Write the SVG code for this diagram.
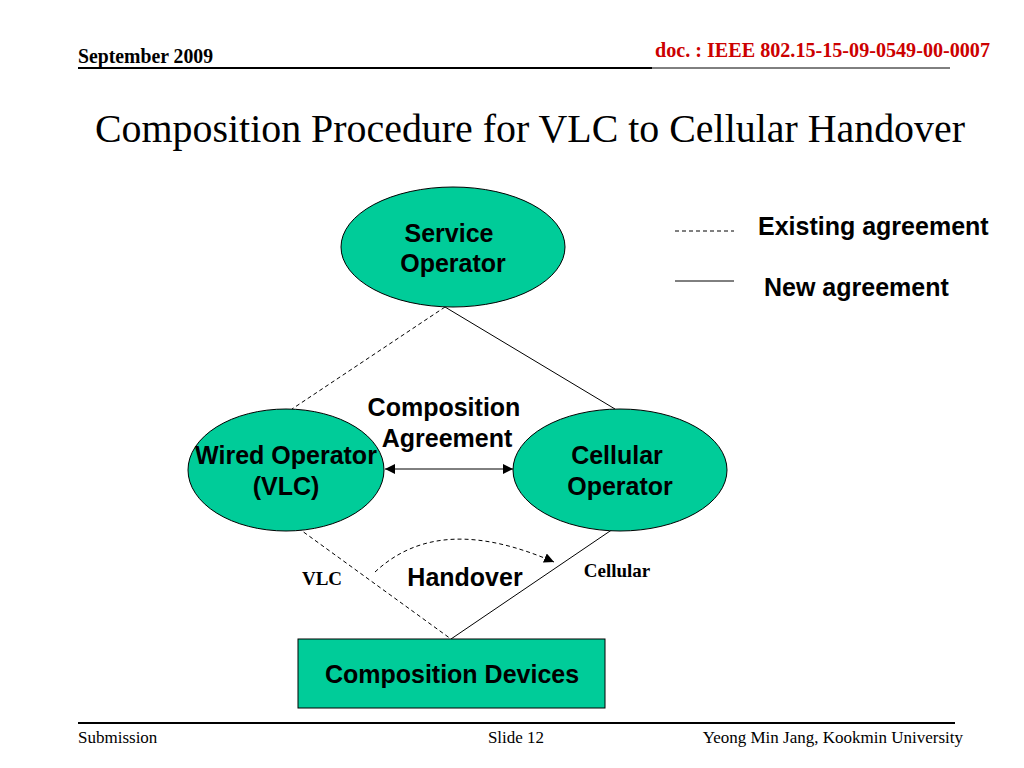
<svg xmlns="http://www.w3.org/2000/svg" width="1024" height="768" viewBox="0 0 1024 768">
<style>
.node{fill:#00CC99;stroke:#000;stroke-width:1}
.lbl{font-family:"Liberation Sans",Arial,sans-serif;font-weight:bold;font-size:25px;fill:#000;text-anchor:middle}
.serif{font-family:"Liberation Serif","Times New Roman",serif;fill:#000}
.dash{stroke:#000;stroke-width:1;stroke-dasharray:4,3;fill:none}
.solid{stroke:#000;stroke-width:1;fill:none}
</style>
<defs>
<marker id="ah" viewBox="0 0 10 10" refX="10" refY="5" markerWidth="10" markerHeight="10" markerUnits="userSpaceOnUse" orient="auto-start-reverse">
<path d="M0,0 L10,5 L0,10 Z" fill="#000"/>
</marker>
</defs>
<rect width="1024" height="768" fill="#fff"/>
<g id="header">
<text class="serif" x="78" y="63" font-size="21" font-weight="bold" textLength="135" lengthAdjust="spacingAndGlyphs">September 2009</text>
<text class="serif" x="655" y="57" font-size="21" font-weight="bold" style="fill:#CC0000" textLength="335" lengthAdjust="spacingAndGlyphs">doc. : IEEE 802.15-15-09-0549-00-0007</text>
<line x1="78" y1="68" x2="652" y2="68" stroke="#000" stroke-width="2"/>
<line x1="652" y1="68" x2="950" y2="68" stroke="#000" stroke-width="1"/>
</g>
<text id="title" class="serif" x="95" y="142" font-size="41" textLength="870" lengthAdjust="spacingAndGlyphs">Composition Procedure for VLC to Cellular Handover</text>
<g id="connectors">
<line class="dash" x1="445" y1="307" x2="292" y2="409"/>
<line class="solid" x1="445" y1="307" x2="615" y2="409"/>
<line class="dash" x1="298" y1="528" x2="451" y2="639"/>
<line class="solid" x1="613" y1="529" x2="451" y2="639"/>
<line class="solid" x1="385" y1="469" x2="513" y2="469" marker-start="url(#ah)" marker-end="url(#ah)"/>
<path class="dash" d="M375,572 C420,530 480,530 554,562" stroke-dasharray="7,4" stroke-width="1.5" marker-end="url(#ah)"/>
</g>
<g id="service-operator">
<ellipse class="node" cx="453" cy="247" rx="112" ry="60"/>
<text class="lbl" x="449" y="242">Service</text>
<text class="lbl" x="453" y="272">Operator</text>
</g>
<g id="wired-operator">
<ellipse class="node" cx="286" cy="470" rx="98" ry="61"/>
<text class="lbl" x="286" y="464">Wired Operator</text>
<text class="lbl" x="286" y="495">(VLC)</text>
</g>
<g id="cellular-operator">
<ellipse class="node" cx="620" cy="470" rx="107" ry="61"/>
<text class="lbl" x="617" y="464">Cellular</text>
<text class="lbl" x="620" y="495">Operator</text>
</g>
<g id="composition-devices">
<rect class="node" x="298" y="639" width="307" height="69"/>
<text class="lbl" x="452" y="683">Composition Devices</text>
</g>
<g id="labels">
<text class="lbl" x="444" y="416">Composition</text>
<text class="lbl" x="447" y="447">Agreement</text>
<text class="lbl" x="465" y="586">Handover</text>
<text class="serif" x="322" y="585" font-size="19" font-weight="bold" text-anchor="middle">VLC</text>
<text class="serif" x="617" y="577" font-size="19" font-weight="bold" text-anchor="middle">Cellular</text>
</g>
<g id="legend">
<line class="dash" x1="675" y1="231" x2="734" y2="231" stroke-dasharray="3,2"/>
<line class="solid" x1="675" y1="281" x2="734" y2="281"/>
<text class="lbl" x="758" y="235" style="text-anchor:start">Existing agreement</text>
<text class="lbl" x="764" y="296" style="text-anchor:start">New agreement</text>
</g>
<g id="footer">
<line x1="78" y1="723" x2="955" y2="723" stroke="#000" stroke-width="2"/>
<text class="serif" x="78" y="743" font-size="17">Submission</text>
<text class="serif" x="516" y="743" font-size="17" text-anchor="middle">Slide 12</text>
<text class="serif" x="963" y="743" font-size="17" text-anchor="end">Yeong Min Jang, Kookmin University</text>
</g>
</svg>
